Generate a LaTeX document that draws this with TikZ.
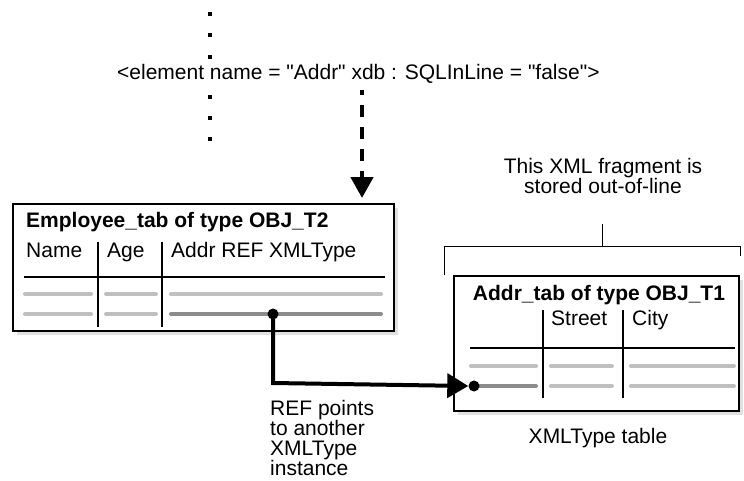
\documentclass[tikz,border=0pt]{standalone}
\usepackage{fontspec}
\setmainfont[Ligatures=TeXOff]{Liberation Sans}
\usetikzlibrary{arrows.meta}
\begin{document}
\begin{tikzpicture}[x=1pt,y=-1pt,
  txt/.style={inner sep=0pt,font=\fontsize{21}{20}\selectfont},
  btxt/.style={inner sep=0pt,font=\fontsize{21}{20}\selectfont\bfseries},
  boxline/.style={line width=2pt},
  colline/.style={line width=2pt},
  lgray/.style={line width=4pt,line cap=round,color=black!25},
  dgray/.style={line width=4pt,line cap=round,color=black!45},
  shadow/.style={fill=black!12,draw=none},
  dotmark/.style={circle,fill=black,inner sep=0pt,minimum size=11pt},
  thin/.style={line width=1pt}
]
\useasboundingbox (0,0) rectangle (744,480);
% dots
\foreach \yy in {14,35,57,97,118,139}
  \fill (210-2,\yy-2) rectangle ++(4,4);
% element text
\node[txt,anchor=base west] (elem) at (117,79) {<element name = "Addr" xdb : SQLInLine = "false">};
% left box
\fill[shadow] (17,208) rectangle (398,335);
\node[draw,boxline,fill=white,minimum width=381pt,minimum height=127pt,anchor=north west,inner sep=0pt] (emp) at (12,203) {};
\node[btxt,anchor=base west] (empt) at (26,227) {Employee\_tab of type OBJ\_T2};
\node[txt,anchor=base west] (nm) at (26,257) {Name};
\node[txt,anchor=base west] (ag) at (107,257) {Age};
\node[txt,anchor=base west] (ad) at (171,257) {Addr REF XMLType};
\draw[colline] (24,277) -- (385,277);
\draw[colline] (98,242) -- (98,327);
\draw[colline] (162,242) -- (162,327);
\draw[lgray] (25,294) -- (91,294);
\draw[lgray] (106,294) -- (156,294);
\draw[lgray] (171,294) -- (381,294);
\draw[lgray] (25,314) -- (91,314);
\draw[lgray] (106,314) -- (156,314);
\draw[dgray] (171,314) -- (381,314);
\node[dotmark] (src) at (273,314) {};
% dashed arrow
\coordinate (dstart) at (362,90);
\coordinate (dend) at (362,198);
\draw[line width=4.5pt,dash pattern=on 12pt off 10pt,dash phase=7pt] (dstart) -- (362,178);
\draw[line width=4.5pt,-{Triangle[length=21pt,width=22pt]}] (362,176) -- (dend);
% right box
\fill[shadow] (458,280) rectangle (743,415);
\node[draw,boxline,fill=white,minimum width=285pt,minimum height=135pt,anchor=north west,inner sep=0pt] (addr) at (453,275) {};
\node[btxt,anchor=base] (addrt) at (599,300) {Addr\_tab of type OBJ\_T1};
\node[txt,anchor=base west] (st) at (551,325) {Street};
\node[txt,anchor=base west] (ci) at (632,325) {City};
\draw[colline] (470,348) -- (735,348);
\draw[colline] (543,310) -- (543,398);
\draw[colline] (623,310) -- (623,398);
\draw[lgray] (471,366) -- (536,366);
\draw[lgray] (551,366) -- (612,366);
\draw[lgray] (631,366) -- (734,366);
\draw[dgray] (471,386) -- (536,386);
\draw[lgray] (551,386) -- (612,386);
\draw[lgray] (631,386) -- (734,386);
\node[dotmark] (dst) at (474,386) {};
% connector
\coordinate (bend) at (273,383);
\draw[line width=4pt,-{Triangle[length=21pt,width=24pt]}] (src.center) -- (bend) -- (dst.west);
% bracket
\coordinate (bl) at (444,275);
\coordinate (br) at (740,256);
\coordinate (bm) at (602,246);
\coordinate (bt) at (602,224);
\draw[thin] (bl) |- (br |- bm) -- (br);
\draw[thin] (bm) -- (bt);
\node[txt,align=center,anchor=base] (frag) at (603,193) {This XML fragment is\\stored out-of-line};
% labels
\node[txt,align=left,anchor=north west] (refl) at (270,400) {REF points\\to another\\XMLType\\instance};
\node[txt,anchor=base] (xtt) at (598,443) {XMLType table};
\end{tikzpicture}
\end{document}
